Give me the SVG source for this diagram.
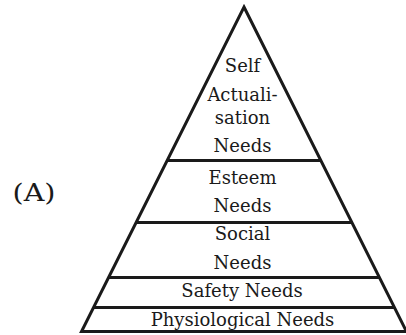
<svg xmlns="http://www.w3.org/2000/svg" width="406" height="335" viewBox="0 0 406 335">
<style>
.t{font-family:"DejaVu Serif","Liberation Serif",serif;font-size:18px;fill:#1a1a1a;text-anchor:middle}
.ln{stroke:#1a1a1a;stroke-width:3;fill:none}
</style>
<rect width="406" height="335" fill="#fff"/>
<text x="12.5" y="201" style="font-family:'DejaVu Serif','Liberation Serif',serif;font-size:24px;fill:#1a1a1a" textLength="43" lengthAdjust="spacingAndGlyphs">(A)</text>
<g id="connectors">
<polygon class="ln" points="244,7 406.5,331.5 81.5,331.5" stroke-width="2.6"/>
<line class="ln" x1="167.6" y1="160.5" x2="320.4" y2="160.5"/>
<line class="ln" x1="136.5" y1="222.5" x2="351.5" y2="222.5"/>
<line class="ln" x1="108.9" y1="277.5" x2="379.1" y2="277.5"/>
<line class="ln" x1="93.9" y1="307.5" x2="394.1" y2="307.5"/>
<line class="ln" x1="81.5" y1="331.5" x2="406.5" y2="331.5"/>
</g>
<g id="self-actualisation">
<text class="t" x="242.5" y="71.5">Self</text>
<text class="t" x="242.5" y="100.5">Actuali-</text>
<text class="t" x="242.5" y="124">sation</text>
<text class="t" x="242.5" y="151.5">Needs</text>
</g>
<g id="esteem">
<text class="t" x="242.5" y="183.5">Esteem</text>
<text class="t" x="242.5" y="211.5">Needs</text>
</g>
<g id="social">
<text class="t" x="242.5" y="240">Social</text>
<text class="t" x="242.5" y="268.5">Needs</text>
</g>
<g id="safety">
<text class="t" x="242" y="297">Safety Needs</text>
</g>
<g id="physiological">
<text class="t" x="242.5" y="326">Physiological Needs</text>
</g>
</svg>
